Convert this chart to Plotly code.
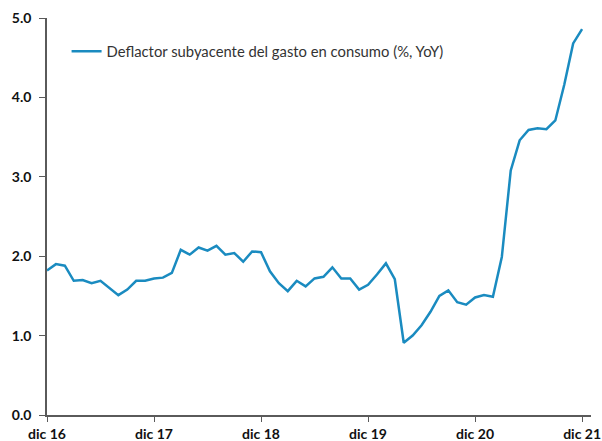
import plotly.graph_objects as go

months = ["dic 16","ene 17","feb 17","mar 17","abr 17","may 17","jun 17","jul 17","ago 17","sep 17","oct 17","nov 17",
          "dic 17","ene 18","feb 18","mar 18","abr 18","may 18","jun 18","jul 18","ago 18","sep 18","oct 18","nov 18",
          "dic 18","ene 19","feb 19","mar 19","abr 19","may 19","jun 19","jul 19","ago 19","sep 19","oct 19","nov 19",
          "dic 19","ene 20","feb 20","mar 20","abr 20","may 20","jun 20","jul 20","ago 20","sep 20","oct 20","nov 20",
          "dic 20","ene 21","feb 21","mar 21","abr 21","may 21","jun 21","jul 21","ago 21","sep 21","oct 21","nov 21",
          "dic 21"]
core_pce = [1.82,1.90,1.88,1.69,1.70,1.66,1.69,1.60,1.51,1.58,1.69,1.69,
            1.72,1.73,1.79,2.08,2.02,2.11,2.07,2.13,2.02,2.04,1.93,2.06,
            2.05,1.81,1.66,1.56,1.69,1.62,1.72,1.74,1.86,1.72,1.72,1.58,
            1.64,1.77,1.91,1.71,0.91,1.00,1.13,1.30,1.50,1.57,1.42,1.39,
            1.48,1.51,1.49,1.99,3.08,3.46,3.59,3.61,3.60,3.71,4.16,4.68,
            4.86]
tick_labels = ["dic 16","dic 17","dic 18","dic 19","dic 20","dic 21"]
y_ticks = [0, 1, 2, 3, 4, 5]
series_name = "Deflactor subyacente del gasto en consumo (%, YoY)"

x_idx = list(range(len(months)))
tick_pos = [months.index(t) for t in tick_labels]

tickfont = dict(size=14, color="#111111", family="Lato, sans-serif", weight="bold")
axis_col = "#5A5A5A"

fig = go.Figure()
fig.add_trace(go.Scatter(x=x_idx, y=core_pce, mode="lines", name=series_name,
                         line=dict(color="#1A8BC0", width=2.5), showlegend=True))

fig.update_layout(
    width=602, height=441,
    margin=dict(l=47, r=11, t=18, b=26, autoexpand=False),
    paper_bgcolor="white", plot_bgcolor="white",
    font=dict(family="Lato, Liberation Sans, sans-serif", size=13, color="#222222"),
    showlegend=True,
    legend=dict(x=0.036, y=0.915, xanchor="left", yanchor="middle",
                bgcolor="rgba(0,0,0,0)", font=dict(size=14.8, color="#333333"),
                itemwidth=30),
    xaxis=dict(range=[0, 61], tickmode="array", tickvals=tick_pos, ticktext=tick_labels,
               showgrid=False, zeroline=False, showline=True, linecolor=axis_col, linewidth=1.5,
               ticks="outside", ticklen=5, tickcolor=axis_col, automargin=False,
               ticklabelstandoff=0, tickfont=tickfont),
    yaxis=dict(range=[0, 5], tickmode="array", tickvals=y_ticks,
               ticktext=[f"{v:.1f}" for v in y_ticks],
               showgrid=False, zeroline=False, showline=True, linecolor=axis_col, linewidth=1.5,
               ticks="outside", ticklen=6, tickcolor=axis_col, automargin=False,
               ticklabelstandoff=5, tickfont=tickfont),
)
fig.write_html("out.html", config={"displayModeBar": False},
               post_script="document.body.style.margin='0';document.body.style.overflow='hidden';")
